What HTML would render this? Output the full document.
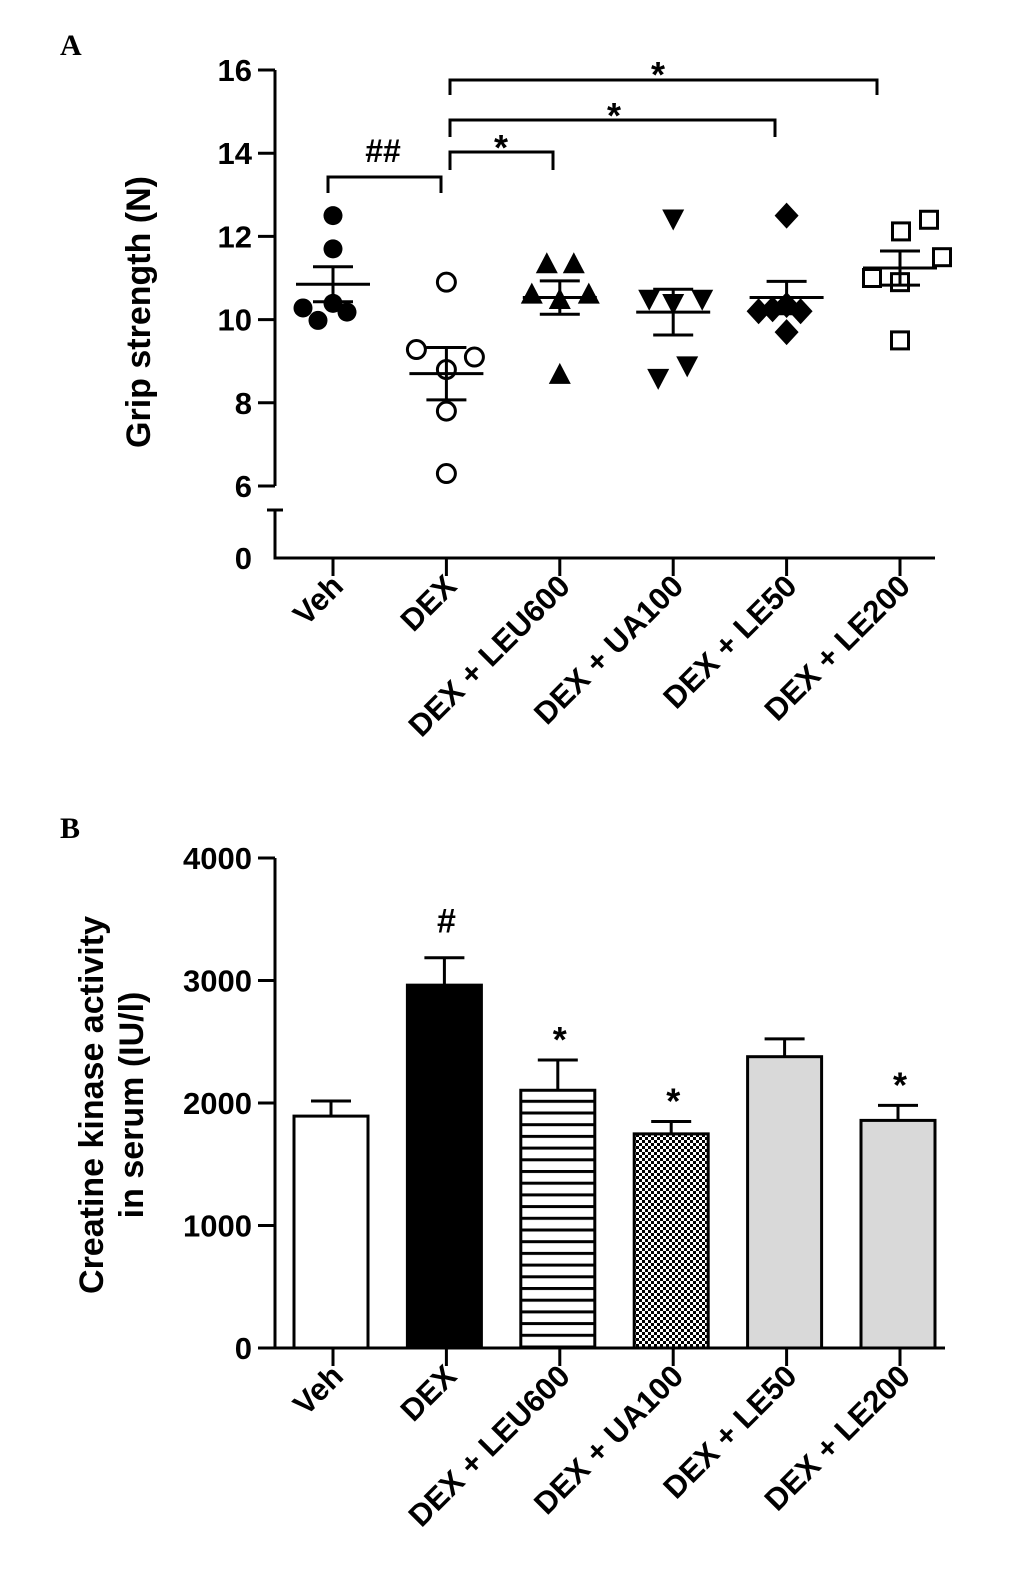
<!DOCTYPE html>
<html><head><meta charset="utf-8"><style>
html,body{margin:0;padding:0;background:#fff}
svg{display:block}
text{font-family:"Liberation Sans",sans-serif;font-weight:bold;fill:#000}
</style></head><body>
<svg id="fig" width="1033" height="1587" viewBox="0 0 1033 1587" xmlns="http://www.w3.org/2000/svg">
<defs>
<pattern id="stripes" width="10" height="11.7" patternUnits="userSpaceOnUse"><rect width="10" height="11.7" fill="#fff"/><rect y="0" width="10" height="3" fill="#000"/></pattern>
<pattern id="checker" width="6" height="6" patternUnits="userSpaceOnUse"><rect width="6" height="6" fill="#fff"/><rect width="3" height="3" fill="#000"/><rect x="3" y="3" width="3" height="3" fill="#000"/></pattern>
</defs>
<text x="60" y="55" style="font-family:'Liberation Serif',serif;font-size:30px">A</text>
<text x="60" y="838" style="font-family:'Liberation Serif',serif;font-size:30px">B</text>
<g id="A"></g>
<g id="B"></g>
</svg>
<script>
const categories=["Veh","DEX","DEX + LEU600","DEX + UA100","DEX + LE50","DEX + LE200"];
// Panel A
const gripVeh=[12.5,11.7,10.28,9.98,10.39,10.18];
const gripDex=[10.9,9.28,9.1,8.8,7.8,6.3];
const gripLeu=[11.33,11.33,10.6,10.6,10.47,8.67];
const gripUa=[12.43,10.5,10.5,10.4,8.9,8.6];
const gripLe50=[12.5,10.2,10.35,10.2,10.25,9.7];
const gripLe200=[12.4,12.12,11.5,11.0,10.9,9.5];
const gripMean=[10.85,8.7,10.53,10.18,10.53,11.24];
const gripSem=[0.42,0.63,0.4,0.55,0.39,0.41];
const gripTicks=[6,8,10,12,14,16];
// Panel B
const ckMean=[1893,2962,2104,1748,2378,1858];
const ckSem=[123,224,247,101,145,123];
const ckTicks=[0,1000,2000,3000,4000];
const ckMarks=["","#","*","*","","*"];

const NS="http://www.w3.org/2000/svg";
function el(tag,attrs,parent,txt){const e=document.createElementNS(NS,tag);for(const k in attrs)e.setAttribute(k,attrs[k]);if(txt!==undefined)e.textContent=txt;parent.appendChild(e);return e;}
const A=document.getElementById('A'),B=document.getElementById('B');
const xCat=i=>333+i*113.4;
const yA=v=>486-(v-6)*41.6;
const yB=v=>1348-v*0.1225;

// Panel A axes
let ax=el('path',{d:`M275 ${yA(16)} V486 M275 510 V558 H935 M267 510 H283`,stroke:'#000','stroke-width':3,fill:'none'},A);

gripTicks.forEach(t=>{let l=el('line',{x1:258,x2:275,y1:yA(t),y2:yA(t),stroke:'#000','stroke-width':3},A);
let tx=el('text',{x:252,y:yA(t)+11,'text-anchor':'end','font-size':31},A,String(t));});
let z=el('text',{x:252,y:569,'text-anchor':'end','font-size':31},A,'0');
let yt=el('text',{transform:'translate(150,312) rotate(-90)','text-anchor':'middle','font-size':34},A,'Grip strength (N)');
function xLabels(g,y0){categories.forEach((c,i)=>{let tk=el('line',{x1:xCat(i),x2:xCat(i),y1:y0,y2:y0+18,stroke:'#000','stroke-width':3},g);
let t=el('text',{transform:`translate(${xCat(i)+12},${y0+30}) rotate(-45)`,'text-anchor':'end','font-size':31},g,c);});}
xLabels(A,558);
const groups=[gripVeh,gripDex,gripLeu,gripUa,gripLe50,gripLe200];
const jitter=[[0,0,-30,-15,0,14],[0,-30,28,0,0,0],[-13,14,-28,29,0,0],[0,-24,29,0,14,-15],[0,-28,0,14,-14,0],[29,1,42,-28,0,0]];
groups.forEach((vals,gi)=>{vals.forEach((v,k)=>{const x=xCat(gi)+jitter[gi][k],y=yA(v);let m;
if(gi===0)m=el('circle',{cx:x,cy:y,r:9.5,fill:'#000'},A);
else if(gi===1)m=el('circle',{cx:x,cy:y,r:9,fill:'#fff',stroke:'#000','stroke-width':3},A);
else if(gi===2)m=el('polygon',{points:`${x},${y-12} ${x-11},${y+9} ${x+11},${y+9}`,fill:'#000'},A);
else if(gi===3)m=el('polygon',{points:`${x},${y+12} ${x-11},${y-9} ${x+11},${y-9}`,fill:'#000'},A);
else if(gi===4)m=el('polygon',{points:`${x},${y-13} ${x+12},${y} ${x},${y+13} ${x-12},${y}`,fill:'#000'},A);
else m=el('rect',{x:x-8.5,y:y-8.5,width:17,height:17,fill:'#fff',stroke:'#000','stroke-width':3},A);
});
const cx=xCat(gi),mu=gripMean[gi],s=gripSem[gi];
let e=el('path',{d:`M${cx-37} ${yA(mu)} H${cx+37} M${cx} ${yA(mu+s)} V${yA(mu-s)} M${cx-20} ${yA(mu+s)} H${cx+20} M${cx-20} ${yA(mu-s)} H${cx+20}`,stroke:'#000','stroke-width':3,fill:'none'},A);
});
// brackets
const br=[[0,1,177,193,'##',383,162],[1.08,2,152,170,'*',501,146],[1.08,4,120,137,'*',614,114],[1.08,5,80,95,'*',658,73]];
const brEnd=[441,553,775,877];
br.forEach((b,i)=>{const x1=i===0?328:450,x2=brEnd[i];let p=el('path',{d:`M${x1} ${b[3]} V${b[2]} H${x2} V${b[3]}`,stroke:'#000','stroke-width':3,fill:'none'},A);

let t=el('text',{x:b[5],y:b[6]+(b[4]==='*'?14:0),'text-anchor':'middle','font-size':b[4]==='*'?36:32},A,b[4]);});

// Panel B
let bx=el('path',{d:`M275 ${yB(4000)} V1348 H945`,stroke:'#000','stroke-width':3,fill:'none'},B);
ckTicks.forEach(t=>{let l=el('line',{x1:258,x2:275,y1:yB(t),y2:yB(t),stroke:'#000','stroke-width':3},B);
let tx=el('text',{x:252,y:yB(t)+11,'text-anchor':'end','font-size':31},B,String(t));});
let yt1=el('text',{transform:'translate(103,1105) rotate(-90)','text-anchor':'middle','font-size':34},B,'Creatine kinase activity');
let yt2=el('text',{transform:'translate(143,1105) rotate(-90)','text-anchor':'middle','font-size':34},B,'in serum (IU/l)');
xLabels(B,1348);
const fills=['#fff','#000','url(#stripes)','url(#checker)','#d9d9d9','#d9d9d9'];
ckMean.forEach((v,i)=>{const cx=xCat(i)-2;
let e=el('path',{d:`M${cx} ${yB(v)} V${yB(v+ckSem[i])} M${cx-20} ${yB(v+ckSem[i])} H${cx+20}`,stroke:'#000','stroke-width':3,fill:'none'},B);
let r=el('rect',{x:cx-37,y:yB(v),width:74,height:1348-yB(v),fill:fills[i],stroke:'#000','stroke-width':3},B);
if(ckMarks[i]){let t=el('text',{x:cx+2,y:yB(v+ckSem[i])-(ckMarks[i]==='#'?25:8),'text-anchor':'middle','font-size':ckMarks[i]==='#'?34:36},B,ckMarks[i]);}});
</script>
</body></html>
